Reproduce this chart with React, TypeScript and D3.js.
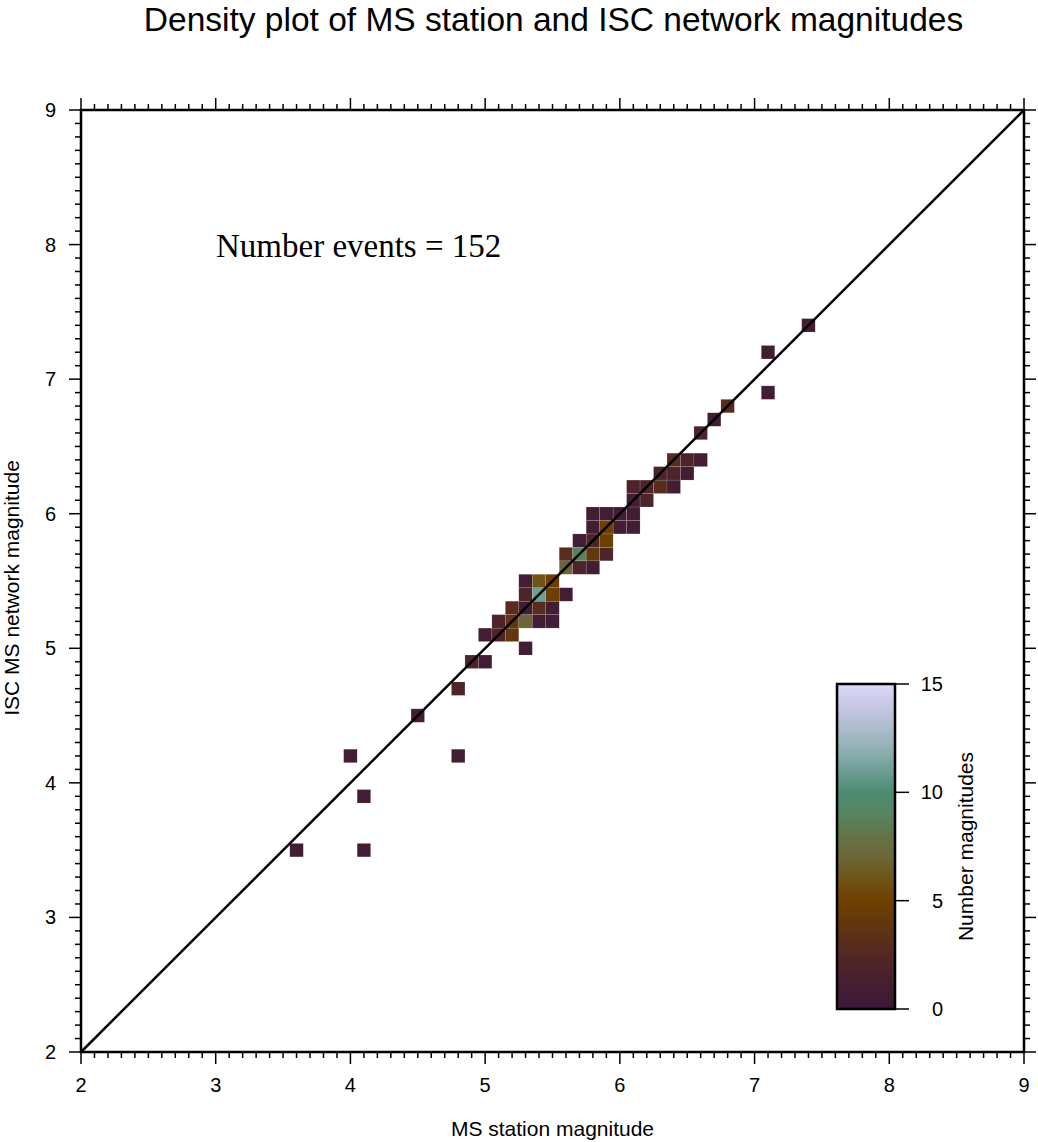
import React from "react";
import * as d3 from "d3";

// ---- data ----
const cellX = [3.6, 4.1, 4.1, 4.0, 4.8, 4.5, 4.8, 4.9, 5.0, 5.3, 5.0, 5.1, 5.2, 5.1, 5.2, 5.3, 5.4, 5.5, 5.2, 5.3, 5.4, 5.5, 5.3, 5.4, 5.5, 5.6, 5.3, 5.4, 5.5, 5.6, 5.7, 5.8, 5.6, 5.7, 5.8, 5.9, 5.7, 5.8, 5.9, 5.8, 5.9, 6.0, 6.1, 5.8, 5.9, 6.0, 6.1, 6.1, 6.2, 6.1, 6.2, 6.3, 6.4, 6.3, 6.4, 6.5, 6.4, 6.5, 6.6, 6.6, 6.7, 6.8, 7.1, 7.1, 7.4];
const cellY = [3.5, 3.5, 3.9, 4.2, 4.2, 4.5, 4.7, 4.9, 4.9, 5.0, 5.1, 5.1, 5.1, 5.2, 5.2, 5.2, 5.2, 5.2, 5.3, 5.3, 5.3, 5.3, 5.4, 5.4, 5.4, 5.4, 5.5, 5.5, 5.5, 5.6, 5.6, 5.6, 5.7, 5.7, 5.7, 5.7, 5.8, 5.8, 5.8, 5.9, 5.9, 5.9, 5.9, 6.0, 6.0, 6.0, 6.0, 6.1, 6.1, 6.2, 6.2, 6.2, 6.2, 6.3, 6.3, 6.3, 6.4, 6.4, 6.4, 6.6, 6.7, 6.8, 6.9, 7.2, 7.4];
const cellCount = [1, 1, 1, 1, 1, 1, 2, 2, 1, 1, 1, 2, 4, 2, 4, 7, 1, 1, 3, 1, 3, 1, 2, 11, 5, 1, 1, 6, 5, 7, 2, 1, 3, 9, 4, 2, 1, 2, 5, 1, 5, 1, 1, 1, 1, 1, 1, 1, 2, 2, 2, 3, 1, 2, 2, 1, 3, 2, 1, 2, 1, 3, 1, 1, 1];
const axisTicks = [2, 3, 4, 5, 6, 7, 8, 9];
const cbarTicks = [0, 5, 10, 15];
const cmapValues = [0, 1, 2, 3, 4, 5, 6, 7, 8, 9, 10, 11, 12, 13, 14, 15];
const cmapColors = ["#3a1838", "#431d33", "#4d2429", "#582d1e", "#63370c", "#6e4000", "#6f5417", "#6c6536", "#647448", "#56845f", "#4e8b73", "#6e9e95", "#90b0b4", "#aebccc", "#c6c8e4", "#dcd8f9"];
const numberEvents = 152;

const W = 1038, H = 1142;
const PL = 81, PR = 1024, PT = 110, PB = 1052;
const SANS = "'Liberation Sans', Arial, Helvetica, sans-serif";
const SERIF = "'Liberation Serif', 'Times New Roman', serif";

export default function App() {
  const x = d3.scaleLinear().domain([2, 9]).range([PL, PR]);
  const y = d3.scaleLinear().domain([2, 9]).range([PB, PT]);
  const color = d3.scaleLinear<string>().domain(cmapValues).range(cmapColors).interpolate(d3.interpolateRgb);
  const minor = d3.range(20, 91).map((i) => i / 10);
  const cells = cellX.map((cx, i) => ({ x: cx, y: cellY[i], n: cellCount[i] }));

  const cb = { x0: 837, x1: 895, y0: 684, y1: 1009 };
  const cy = d3.scaleLinear().domain([0, 15]).range([cb.y1, cb.y0]);

  return (
    <svg width={W} height={H} style={{ position: "absolute", left: 0, top: 0, display: "block" }}>
      <defs>
        <linearGradient id="cbar" x1="0" y1="1" x2="0" y2="0">
          {cmapValues.map((v, i) => (
            <stop key={i} offset={`${(v / 15) * 100}%`} stopColor={cmapColors[i]} />
          ))}
        </linearGradient>
      </defs>
      <rect x={0} y={0} width={W} height={H} fill="#fff" />
      <text x={(PL + PR) / 2 + 1} y={31} textAnchor="middle" fontFamily={SANS} fontSize={33.5} fill="#000">
        Density plot of MS station and ISC network magnitudes
      </text>

      {/* cells */}
      {cells.map((c, i) => (
        <rect
          key={i}
          x={x(c.x - 0.05)}
          y={y(c.y + 0.05)}
          width={x(c.x + 0.05) - x(c.x - 0.05)}
          height={y(c.y - 0.05) - y(c.y + 0.05)}
          fill={color(c.n)}
          stroke="rgba(255,255,255,0.25)"
          strokeWidth={0.5}
        />
      ))}

      {/* diagonal */}
      <line x1={x(2)} y1={y(2)} x2={x(9)} y2={y(9)} stroke="#000" strokeWidth={2.5} />

      {/* ticks */}
      {minor.map((v, i) => {
        const major = Math.abs(v - Math.round(v)) < 1e-6;
        const L = major ? 12 : 6;
        return (
          <g key={i} stroke="#000" strokeWidth={1.5}>
            <line x1={x(v)} x2={x(v)} y1={PB} y2={PB + L} />
            <line x1={x(v)} x2={x(v)} y1={PT} y2={PT - L} />
            <line y1={y(v)} y2={y(v)} x1={PL} x2={PL - L} />
            <line y1={y(v)} y2={y(v)} x1={PR} x2={PR + L} />
          </g>
        );
      })}
      <rect x={PL} y={PT} width={PR - PL} height={PB - PT} fill="none" stroke="#000" strokeWidth={2.5} />

      {axisTicks.map((t) => (
        <text key={"xt" + t} x={x(t)} y={PB + 40} textAnchor="middle" fontFamily={SANS} fontSize={20}>
          {t}
        </text>
      ))}
      {axisTicks.map((t) => (
        <text key={"yt" + t} x={PL - 25} y={y(t)} dy="0.35em" textAnchor="end" fontFamily={SANS} fontSize={20}>
          {t}
        </text>
      ))}
      <text x={(PL + PR) / 2} y={1136} textAnchor="middle" fontFamily={SANS} fontSize={21}>
        MS station magnitude
      </text>
      <text transform={`translate(19,588) rotate(-90)`} textAnchor="middle" fontFamily={SANS} fontSize={21}>
        ISC MS network magnitude
      </text>

      <text x={216} y={257} fontFamily={SERIF} fontSize={33}>
        Number events = {numberEvents}
      </text>

      {/* colorbar */}
      <rect x={cb.x0} y={cb.y0} width={cb.x1 - cb.x0} height={cb.y1 - cb.y0} fill="url(#cbar)" stroke="#000" strokeWidth={2.5} />
      {cbarTicks.map((t) => (
        <g key={"cb" + t}>
          <line x1={cb.x1} x2={cb.x1 + 14} y1={cy(t)} y2={cy(t)} stroke="#000" strokeWidth={1.5} />
          <text x={943} y={cy(t)} dy="0.35em" textAnchor="end" fontFamily={SANS} fontSize={20}>
            {t}
          </text>
        </g>
      ))}
      <text transform={`translate(973,${(cb.y0 + cb.y1) / 2}) rotate(-90)`} textAnchor="middle" fontFamily={SANS} fontSize={21}>
        Number magnitudes
      </text>
    </svg>
  );
}
